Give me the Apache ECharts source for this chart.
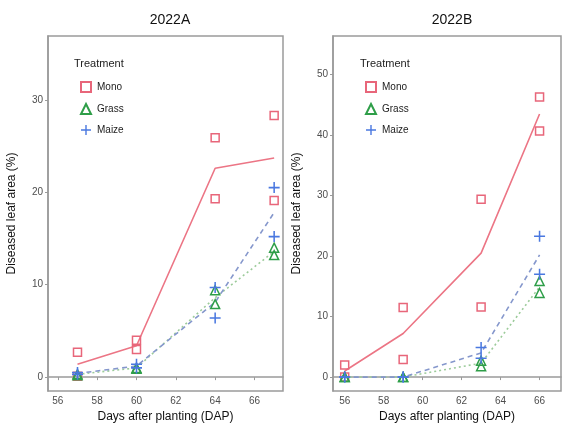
<!DOCTYPE html>
<html><head><meta charset="utf-8">
<script src="https://cdn.jsdelivr.net/npm/echarts@6/dist/echarts.min.js"></script>
<style>html,body{margin:0;padding:0;background:#fff}#c{width:562px;height:428px}</style>
</head><body><div id="c"></div>
<script>
// ---- Data ----
const panelTitles = ['2022A', '2022B'];
const treatments = ['Mono', 'Grass', 'Maize'];
const xTicks = [56, 58, 60, 62, 64, 66];
const yTicksA = [0, 10, 20, 30];
const yTicksB = [0, 10, 20, 30, 40, 50];

// 2022A
const daysA = [57, 60, 64, 67];
const monoA_rep1 = [2.7, 4.0, 25.9, 28.3];
const monoA_rep2 = [0.1, 3.0, 19.3, 19.1];
const monoA_mean = [1.4, 3.4, 22.6, 23.7];
const grassA_rep1 = [0.3, 1.0, 9.4, 14.0];
const grassA_rep2 = [0.2, 0.9, 7.9, 13.2];
const grassA_mean = [0.3, 1.0, 8.6, 13.6];
const maizeA_rep1 = [0.5, 1.4, 9.7, 20.5];
const maizeA_rep2 = [0.3, 1.0, 6.4, 15.2];
const maizeA_mean = [0.4, 1.2, 8.1, 17.8];

// 2022B
const daysB = [56, 59, 63, 66];
const monoB_rep1 = [2.0, 11.5, 29.4, 46.3];
const monoB_rep2 = [0.0, 2.9, 11.6, 40.7];
const monoB_mean = [1.0, 7.2, 20.5, 43.5];
const grassB_rep1 = [0.0, 0.0, 2.7, 15.9];
const grassB_rep2 = [0.0, 0.0, 1.8, 13.9];
const grassB_mean = [0.0, 0.0, 2.3, 14.9];
const maizeB_rep1 = [0.0, 0.0, 4.9, 23.3];
const maizeB_rep2 = [0.0, 0.0, 3.1, 17.0];
const maizeB_mean = [0.0, 0.0, 4.0, 20.2];

// ---- Styles ----
const colors = { Mono: '#E8667A', Grass: '#2E9E48', Maize: '#4A78E0' };
const lineColors = { Mono: '#EC7585', Grass: '#9CCB9A', Maize: '#8597CC' };
const lineTypes = { Mono: 'solid', Grass: [2, 3], Maize: [5, 4] };
const plusPath = 'path://M4.3,0 L5.7,0 L5.7,4.3 L10,4.3 L10,5.7 L5.7,5.7 L5.7,10 L4.3,10 L4.3,5.7 L0,5.7 L0,4.3 L4.3,4.3 Z';
const symbols = { Mono: 'rect', Grass: 'triangle', Maize: plusPath };
const symbolSizes = { Mono: 8, Grass: 9, Maize: 11 };

function pairs(days, vals) { return days.map((d, i) => [d, vals[i]]); }

const panels = [
  { days: daysA, data: {
      Mono: [monoA_rep1, monoA_rep2, monoA_mean],
      Grass: [grassA_rep1, grassA_rep2, grassA_mean],
      Maize: [maizeA_rep1, maizeA_rep2, maizeA_mean] } },
  { days: daysB, data: {
      Mono: [monoB_rep1, monoB_rep2, monoB_mean],
      Grass: [grassB_rep1, grassB_rep2, grassB_mean],
      Maize: [maizeB_rep1, maizeB_rep2, maizeB_mean] } }
];

const series = [];
panels.forEach((p, pi) => {
  treatments.forEach(t => {
    const [r1, r2] = p.data[t];
    const isPlus = t === 'Maize';
    series.push({
      name: t, type: 'scatter', xAxisIndex: pi, yAxisIndex: pi,
      symbol: symbols[t], symbolSize: symbolSizes[t],
      itemStyle: isPlus ? { color: colors[t], opacity: 1 }
        : { color: 'rgba(255,255,255,0)', borderColor: colors[t], borderWidth: 1.5, opacity: 1 },
      data: pairs(p.days, r1).concat(pairs(p.days, r2)), z: 3
    });
  });
});
panels.forEach((p, pi) => {
  treatments.forEach(t => {
    const mean = p.data[t][2];
    series.push({
      name: t + ' mean', type: 'line', xAxisIndex: pi, yAxisIndex: pi,
      symbol: 'none', silent: true,
      lineStyle: { color: lineColors[t], width: 1.6, type: lineTypes[t] },
      data: pairs(p.days, mean), z: 2
    });
  });
});

const frameColor = '#9a9a9a';
const font = 'Liberation Sans, Arial, sans-serif';
const tickLabel = { color: '#4d4d4d', fontSize: 10, fontFamily: font };
const nameStyle = { color: '#111', fontSize: 12, fontFamily: font };

function xAxis(gi, min, max) {
  return {
    type: 'value', gridIndex: gi, min: min, max: max,
    name: 'Days after planting (DAP)', nameLocation: 'middle', nameGap: 20, nameTextStyle: nameStyle,
    axisLine: { show: true, lineStyle: { color: frameColor, width: 1.5 } },
    axisTick: { show: true, length: 3, lineStyle: { color: frameColor }, customValues: xTicks },
    axisLabel: { ...tickLabel, margin: 5, customValues: xTicks },
    splitLine: { show: false }
  };
}
function yAxis(gi, min, max, ticks) {
  return {
    type: 'value', gridIndex: gi, min: min, max: max,
    name: 'Diseased leaf area (%)', nameLocation: 'middle', nameGap: 30, nameTextStyle: nameStyle,
    axisLine: { show: true, lineStyle: { color: frameColor, width: 1.5 } },
    axisTick: { show: true, length: 3, lineStyle: { color: frameColor }, customValues: ticks },
    axisLabel: { ...tickLabel, margin: 5, customValues: ticks },
    splitLine: { show: false }
  };
}

function legend(left) {
  return {
    orient: 'vertical', left: left, top: 76, itemWidth: 10, itemHeight: 10, itemGap: 10,
    data: treatments, selectedMode: false,
    textStyle: { color: '#222', fontSize: 10, fontFamily: font, padding: [0, 0, 0, 1] }
  };
}

const chart = echarts.init(document.getElementById('c'), null, { renderer: 'canvas' });
chart.setOption({
  animation: false,
  backgroundColor: '#fff',
  title: [
    { text: panelTitles[0], left: 165, top: 8, textAlign: 'center',
      textStyle: { fontSize: 14, fontWeight: 'normal', color: '#111', fontFamily: font } },
    { text: panelTitles[1], left: 447, top: 8, textAlign: 'center',
      textStyle: { fontSize: 14, fontWeight: 'normal', color: '#111', fontFamily: font } },
    { text: 'Treatment', left: 69, top: 53,
      textStyle: { fontSize: 11, fontWeight: 'normal', color: '#222', fontFamily: font } },
    { text: 'Treatment', left: 355, top: 53,
      textStyle: { fontSize: 11, fontWeight: 'normal', color: '#222', fontFamily: font } }
  ],
  grid: [
    { left: 48, top: 36, width: 235, height: 357, show: true, borderColor: frameColor, borderWidth: 1.5, backgroundColor: '#fff' },
    { left: 333, top: 36, width: 228, height: 357, show: true, borderColor: frameColor, borderWidth: 1.5, backgroundColor: '#fff' }
  ],
  xAxis: [xAxis(0, 55.5, 67.45), xAxis(1, 55.4, 67.1)],
  yAxis: [yAxis(0, -1.5, 36.9, yTicksA), yAxis(1, -2.3, 56.4, yTicksB)],
  legend: [legend(75), legend(360)],
  series: series
});
</script>
</body></html>
